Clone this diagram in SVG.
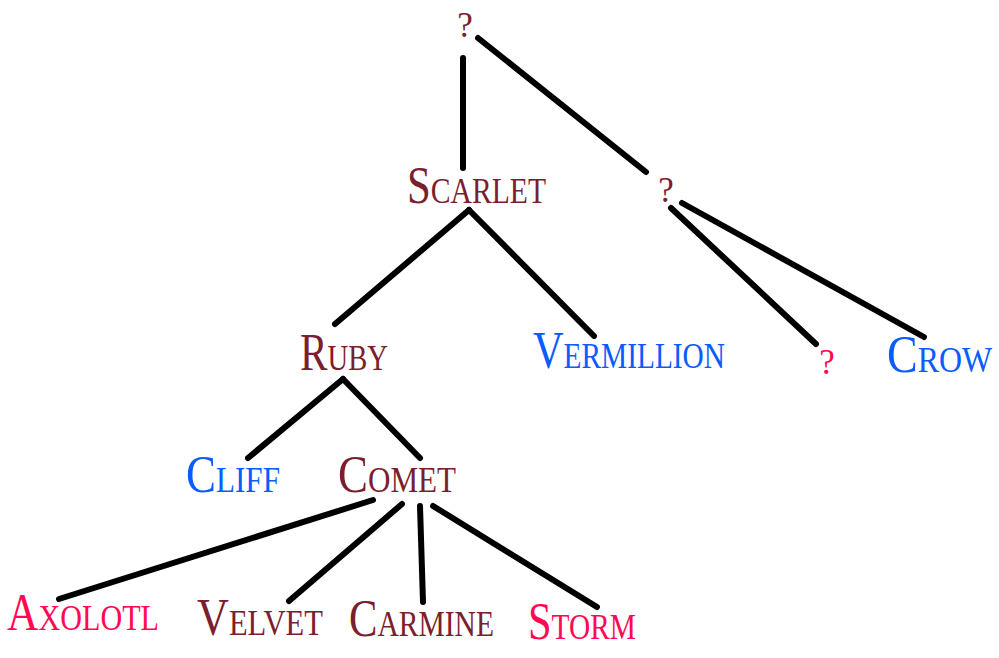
<svg xmlns="http://www.w3.org/2000/svg" width="999" height="658" viewBox="0 0 999 658">
<style>
.lbl{font-family:"Liberation Serif","Times New Roman",serif;font-size:52px;font-variant:small-caps;}
.q{font-family:"Liberation Serif","Times New Roman",serif;font-size:35px;text-anchor:middle;}
.m{fill:#7b1e2d;}
.b{fill:#0b5cff;}
.p{fill:#ff0a52;}
.edge{stroke:#000;stroke-width:6;stroke-linecap:round;fill:none;}
</style>
<rect width="999" height="658" fill="#fff"/>
<g id="connectors">
<line class="edge" x1="463" y1="58" x2="463" y2="168"/>
<line class="edge" x1="478" y1="38" x2="646" y2="172"/>
<line class="edge" x1="469" y1="210" x2="335" y2="324"/>
<line class="edge" x1="469" y1="210" x2="594" y2="336"/>
<line class="edge" x1="671" y1="208" x2="816" y2="344"/>
<line class="edge" x1="682" y1="203" x2="924" y2="337"/>
<line class="edge" x1="343" y1="379" x2="248" y2="458"/>
<line class="edge" x1="343" y1="379" x2="420" y2="458"/>
<line class="edge" x1="373" y1="500" x2="59" y2="599"/>
<line class="edge" x1="402" y1="504" x2="289" y2="601"/>
<line class="edge" x1="420" y1="506" x2="423" y2="602"/>
<line class="edge" x1="433" y1="506" x2="597" y2="607"/>
</g>
<g id="n-root"><text class="q m" x="465" y="37">?</text></g>
<g id="n-scarlet"><text class="lbl m" x="407" y="203" textLength="139" lengthAdjust="spacingAndGlyphs">Scarlet</text></g>
<g id="n-q2"><text class="q m" x="666" y="202">?</text></g>
<g id="n-ruby"><text class="lbl m" x="300" y="370" textLength="88" lengthAdjust="spacingAndGlyphs">Ruby</text></g>
<g id="n-vermillion"><text class="lbl b" x="533" y="368" textLength="192" lengthAdjust="spacingAndGlyphs">Vermillion</text></g>
<g id="n-q3"><text class="q p" x="827" y="374">?</text></g>
<g id="n-crow"><text class="lbl b" x="887" y="372" style="font-size:46px" transform="translate(0,-48.4) scale(1,1.13)">Crow</text></g>
<g id="n-cliff"><text class="lbl b" x="186" y="492" textLength="94" lengthAdjust="spacingAndGlyphs">Cliff</text></g>
<g id="n-comet"><text class="lbl m" x="338" y="492" textLength="118" lengthAdjust="spacingAndGlyphs">Comet</text></g>
<g id="n-axolotl"><text class="lbl p" x="7" y="630" textLength="152" lengthAdjust="spacingAndGlyphs">Axolotl</text></g>
<g id="n-velvet"><text class="lbl m" x="197" y="635" textLength="126" lengthAdjust="spacingAndGlyphs">Velvet</text></g>
<g id="n-carmine"><text class="lbl m" x="349" y="636" textLength="145" lengthAdjust="spacingAndGlyphs">Carmine</text></g>
<g id="n-storm"><text class="lbl p" x="528" y="639" textLength="108" lengthAdjust="spacingAndGlyphs">Storm</text></g>
</svg>
